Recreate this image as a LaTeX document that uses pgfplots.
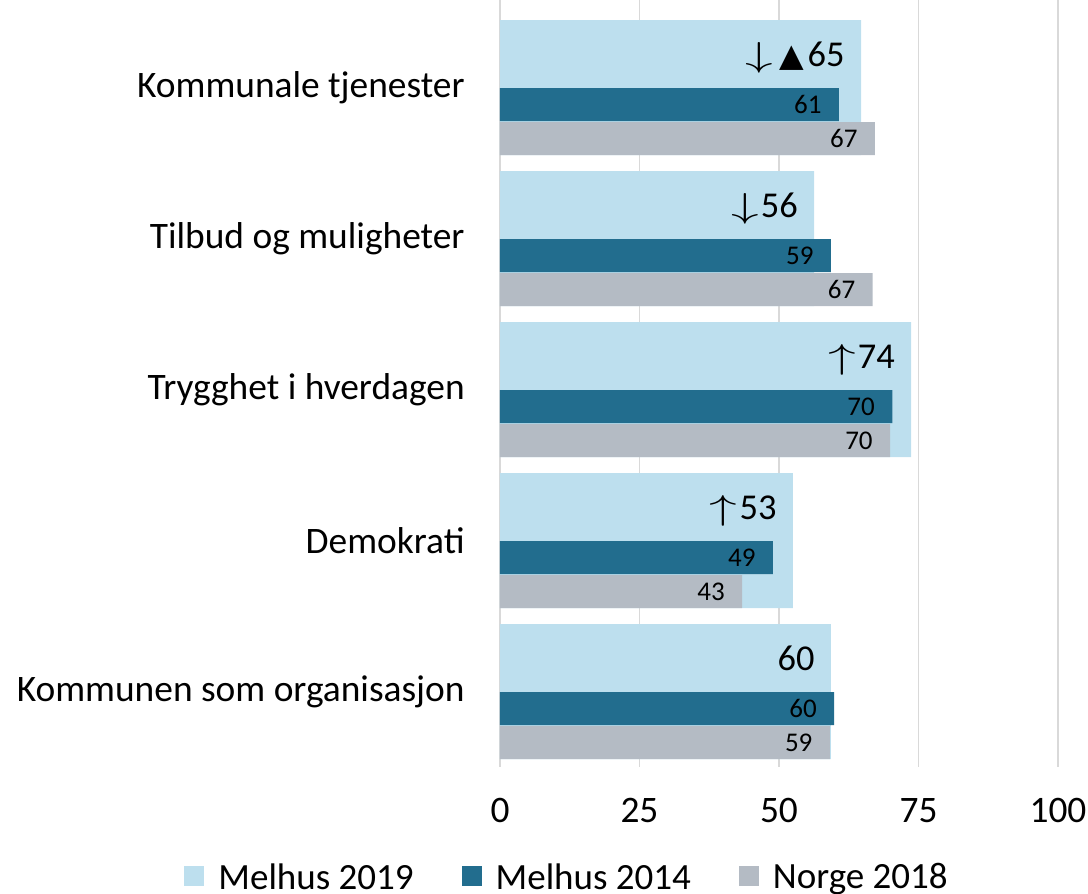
\documentclass[border=0pt]{standalone}
\usepackage{pgfplots}
\pgfplotsset{compat=1.18}
\usepackage{fontspec}
\setmainfont{Carlito}
\newfontfamily\dejavu{DejaVu Sans}
\definecolor{lb}{HTML}{BDDFEE}
\definecolor{db}{HTML}{226D8E}
\definecolor{gr}{HTML}{B4BBC4}
\newcommand{\tri}{{\fontsize{16}{16}\selectfont\dejavu ▲}}
\newcommand{\dn}{\scalebox{1.6}[1.0]{$\downarrow$}}
\newcommand{\up}{\scalebox{1.6}[1.0]{$\uparrow$}}
\begin{document}
\begin{tikzpicture}
\useasboundingbox (-250pt,-63.5pt) rectangle (294pt,383.5pt);
\begin{axis}[
  at={(0,0)}, anchor=south west,
  width=279pt, height=383.5pt, scale only axis,
  xbar,
  xmin=0, xmax=100, ymin=-0.5, ymax=4.58,
  xtick={0,25,50,75,100},
  ytick={0,1,2,3,4},
  yticklabels={Kommunen som organisasjon, Demokrati, Trygghet i hverdagen, Tilbud og muligheter, Kommunale tjenester},
  xmajorgrids,
  major grid style={draw=black!15, line width=0.8pt},
  extra x ticks={0}, extra x tick labels={},
  extra x tick style={grid style={draw=black!45, line width=0.8pt}},
  axis line style={draw=none},
  major tick length=0pt,
  tick label style={font=\fontsize{18.7}{22}\selectfont},
  /pgf/number format/assume math mode=true,
  yticklabel style={anchor=east, inner sep=0pt, xshift=-17.5pt},
  xticklabel style={anchor=north, inner sep=0pt, yshift=-15.5pt},
  legend image code/.code={\fill[#1] (0pt,-4pt) rectangle (10pt,6pt);},
  legend style={at={(0.122,-0.1445)}, anchor=center, draw=none, fill=none,
    legend columns=3, font=\fontsize{18.5}{22}\selectfont,
    /tikz/every odd column/.append style={column sep=5pt},
    /tikz/every even column/.append style={column sep=22pt}},
]
\addplot[forget plot, fill=lb, draw=none, bar width=67.5pt, bar shift=0pt,
  point meta=explicit symbolic, nodes near coords,
  every node near coord/.append style={anchor=base east, inner sep=0pt, xshift=-8pt, yshift=10.3pt,
    font=\fontsize{18.2}{20}\selectfont, text=black}]
  coordinates {
  (64.7,4) [{\dn\hspace{3pt}\tri\hspace{2pt}65}]
  (56.3,3) [{\dn\hspace{1pt}56}]
  (73.7,2) [{\up\hspace{1pt}74}]
  (52.5,1) [{\up\hspace{1pt}53}]
  (59.3,0) [{60}]
  };
\addplot[forget plot, fill=db, draw=none, bar width=16.5pt, bar shift=-8.5pt,
  point meta=explicit symbolic, nodes near coords,
  every node near coord/.append style={anchor=east, inner sep=0pt, xshift=-8.5pt,
    font=\fontsize{13.5}{15}\selectfont, text=black}]
  coordinates {
  (60.75,4) [61]
  (59.3,3) [59]
  (70.3,2) [70]
  (48.9,1) [49]
  (59.9,0) [60]
  };
\addplot[forget plot, fill=gr, draw=none, bar width=16.5pt, bar shift=-25.5pt,
  point meta=explicit symbolic, nodes near coords,
  every node near coord/.append style={anchor=east, inner sep=0pt, xshift=-8.5pt,
    font=\fontsize{13.5}{15}\selectfont, text=black}]
  coordinates {
  (67.2,4) [67]
  (66.8,3) [67]
  (69.9,2) [70]
  (43.4,1) [43]
  (59.1,0) [59]
  };
\addlegendimage{fill=lb, draw=none}
\addlegendimage{fill=db, draw=none}
\addlegendimage{fill=gr, draw=none}
\legend{Melhus 2019, Melhus 2014, Norge 2018}
\end{axis}
\end{tikzpicture}
\end{document}
